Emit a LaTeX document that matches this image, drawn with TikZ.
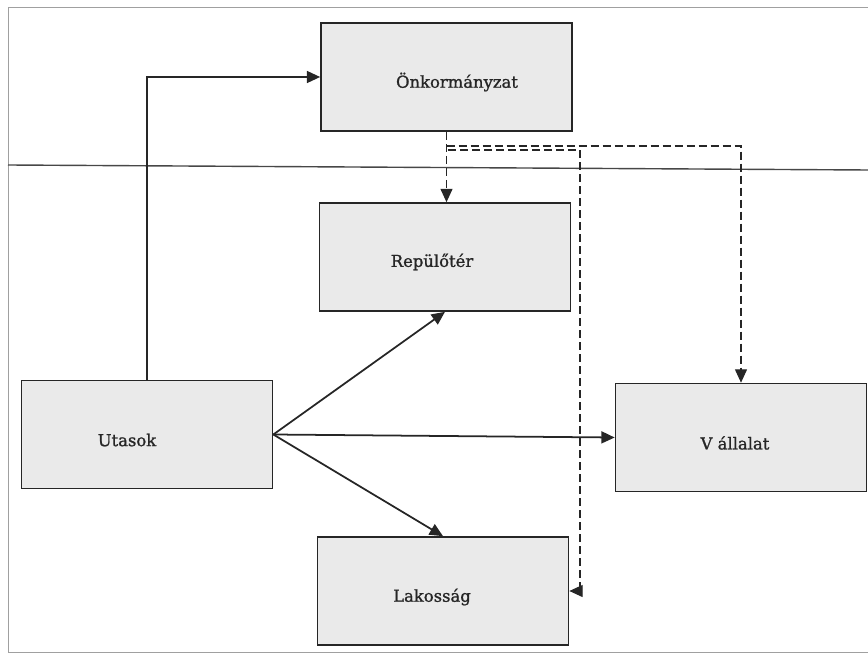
\documentclass[tikz,border=0pt]{standalone}
\usepackage{fontspec}
\setmainfont{DejaVu Serif}
\newfontfamily\lblfont[FakeBold=1.2]{DejaVu Serif}
\usetikzlibrary{arrows.meta}
\definecolor{boxfill}{HTML}{EAEAEA}
\definecolor{ink}{HTML}{262626}
\definecolor{framegray}{HTML}{A0A0A0}
\tikzset{
  box/.style={draw=ink, line width=1.4pt, fill=boxfill, rectangle,
              minimum width=7.53cm, minimum height=3.24cm, inner sep=0pt},
  lbl/.style={text=ink, font=\lblfont\fontsize{14}{16}\selectfont, inner sep=0pt},
  arr/.style={draw=ink, line width=1.5pt, -{Triangle[length=4mm,width=3.6mm]}},
  darr/.style={draw=ink, line width=1pt, dash pattern=on 2.4mm off 1.2mm,
               -{Triangle[length=4mm,width=3.6mm]}},
}
\begin{document}
\begin{tikzpicture}[x=0.03cm, y=-0.03cm]
  \useasboundingbox (0,0) rectangle (868,654);
  % outer frame and separator
  \draw[framegray, line width=0.7pt] (870,7) -- (8,7) -- (8,652) -- (870,652);
  \draw[ink!85, line width=1.2pt] (8,165) -- (868,170);

  % boxes
  \node[box] (onk) at (446.5,77) {};
  \node[box] (rep) at (445,257) {};
  \node[box] (uta) at (147,434.5) {};
  \node[box] (val) at (741,437.5) {};
  \node[box] (lak) at (443,591) {};

  % labels
  \node[lbl] (tonk) at (457,82) {Önkormányzat};
  \node[lbl] (trep) at (432,262) {Repülőtér};
  \node[lbl] (tuta) at (127,440) {Utasok};
  \node[lbl] (tval) at (735,443) {V állalat};
  \node[lbl] (tlak) at (432,597) {Lakosság};

  % solid connectors from Utasok
  \draw[arr] (uta.north) |- (onk.west);
  \draw[arr] (uta.east) -- (rep.south);
  \draw[arr] (uta.east) -- (val.west);
  \draw[arr] (uta.east) -- (lak.north);

  % dashed connectors from Önkormányzat
  \coordinate (j1) at (446.5,146);
  \coordinate (j2) at (448,150);
  \coordinate (k) at (580,591);
  \draw[darr] (onk.south) -- (onk.south |- rep.north);
  \draw[darr] (j1) -| (val.north);
  \draw[darr] (j2) -| (k) -- (lak.east);
\end{tikzpicture}
\end{document}
